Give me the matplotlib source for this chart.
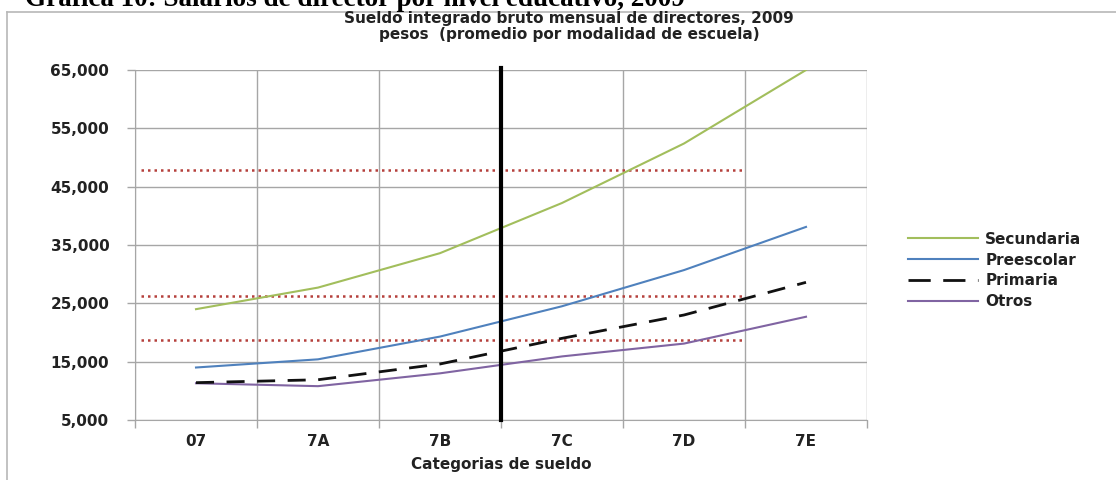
import numpy as np
import matplotlib
matplotlib.use("Agg")
import matplotlib.pyplot as plt
from matplotlib.lines import Line2D
from matplotlib.ticker import FixedLocator, FuncFormatter

# --- data -------------------------------------------------------------
categorias = ["07", "7A", "7B", "7C", "7D", "7E"]
secundaria = [24000, 27700, 33600, 42200, 52400, 65000]
preescolar = [14000, 15400, 19300, 24500, 30700, 38100]
primaria = [11400, 11900, 14600, 19000, 23000, 28600]
otros = [11300, 10800, 13000, 15900, 18100, 22700]
umbrales = [47800, 26300, 18700]          # dotted reference levels
y_ticks = list(range(5000, 65001, 10000))

W, H = 1116, 480
fig = plt.figure(figsize=(W / 100, H / 100), dpi=100)
fig.patch.set_facecolor("white")

# page heading above the chart box
fig.text(25 / W, 1 - 6 / H, "Gráfica 10: Salarios de director por nivel educativo, 2009",
         family="Liberation Serif", weight="bold", fontsize=19.5, ha="left", va="baseline")

# chart box border
fig.add_artist(Line2D([7 / W, 1.0], [1 - 12 / H, 1 - 12 / H], transform=fig.transFigure,
                      color="#b8b8b8", lw=1.2))
fig.add_artist(Line2D([7 / W, 7 / W], [0, 1 - 12 / H], transform=fig.transFigure,
                      color="#b8b8b8", lw=1.2))

ax = fig.add_axes([135 / W, 60 / H, 732 / W, 350 / H])
x = np.arange(len(categorias))

txt_c = "#222222"
fs = 11
grid_c = "#a6a6a6"
ax.set_xlim(-0.5, len(categorias) - 0.5)
ax.set_ylim(5000, 65000)
ax.set_yticks(y_ticks)
ax.yaxis.set_major_formatter(FuncFormatter(lambda v, p: f"{int(v):,}"))
ax.set_xticks(x)
ax.set_xticklabels(categorias)
ax.xaxis.set_minor_locator(FixedLocator(np.arange(-0.5, len(categorias), 1.0)))
ax.tick_params(axis="x", which="major", length=0, pad=10, labelsize=fs, labelcolor=txt_c)
ax.tick_params(axis="x", which="minor", length=5.5, color=grid_c, width=1)
ax.tick_params(axis="y", which="major", length=5.5, color=grid_c, width=1, pad=13,
               labelsize=fs, labelcolor=txt_c)
for lab in ax.get_xticklabels() + ax.get_yticklabels():
    lab.set_fontweight("bold")
ax.grid(axis="y", which="major", color=grid_c, lw=1)
ax.grid(axis="x", which="minor", color=grid_c, lw=1)
for s in ("top", "right"):
    ax.spines[s].set_visible(False)
for s in ("left", "bottom"):
    ax.spines[s].set_color(grid_c)
ax.set_axisbelow(True)

# dotted reference levels
for u in umbrales:
    ax.hlines(u, -0.45, 4.5, colors="#b5403c", lw=1.8, linestyles=(0, (1, 1.6)), zorder=2)

c_sec, c_pre, c_pri, c_otr = "#a2be5c", "#4f81bd", "#111111", "#8064a2"
ax.plot(x, secundaria, color=c_sec, lw=1.5, zorder=3)
ax.plot(x, preescolar, color=c_pre, lw=1.5, zorder=3)
ax.plot(x, otros, color=c_otr, lw=1.5, zorder=3)
ax.plot(x, primaria, color=c_pri, lw=2, dashes=(6.5, 4.5), zorder=4)

# divider between 7B and 7C
ax.axvline(2.5, ymin=0, ymax=1.006, color="black", lw=3, zorder=5, clip_on=False)

ax.set_xlabel("Categorias de sueldo", fontsize=fs, fontweight="bold", labelpad=6,
              color=txt_c)

fig.text(569 / W, 1 - 19 / H, "Sueldo integrado bruto mensual de directores, 2009",
         ha="center", va="center", fontsize=11, fontweight="bold", color=txt_c)
fig.text(569 / W, 1 - 34 / H, "pesos  (promedio por modalidad de escuela)",
         ha="center", va="center", fontsize=11, fontweight="bold", color=txt_c)

handles = [
    Line2D([], [], color=c_sec, lw=1.5),
    Line2D([], [], color=c_pre, lw=1.5),
    Line2D([], [], color=c_pri, lw=2, dashes=(8, 4.5)),
    Line2D([], [], color=c_otr, lw=1.5),
]
labels = ["Secundaria", "Preescolar", "Primaria", "Otros"]
leg = ax.legend(handles, labels, loc="center left", bbox_to_anchor=(908 / W, 1 - 270.5 / H),
                bbox_transform=fig.transFigure, frameon=False, fontsize=fs,
                handlelength=4.6, handletextpad=0.45, labelspacing=0.38,
                borderpad=0, borderaxespad=0)
for t in leg.get_texts():
    t.set_fontweight("bold")
    t.set_color(txt_c)

fig.savefig("out.png", dpi=100, facecolor="white")
